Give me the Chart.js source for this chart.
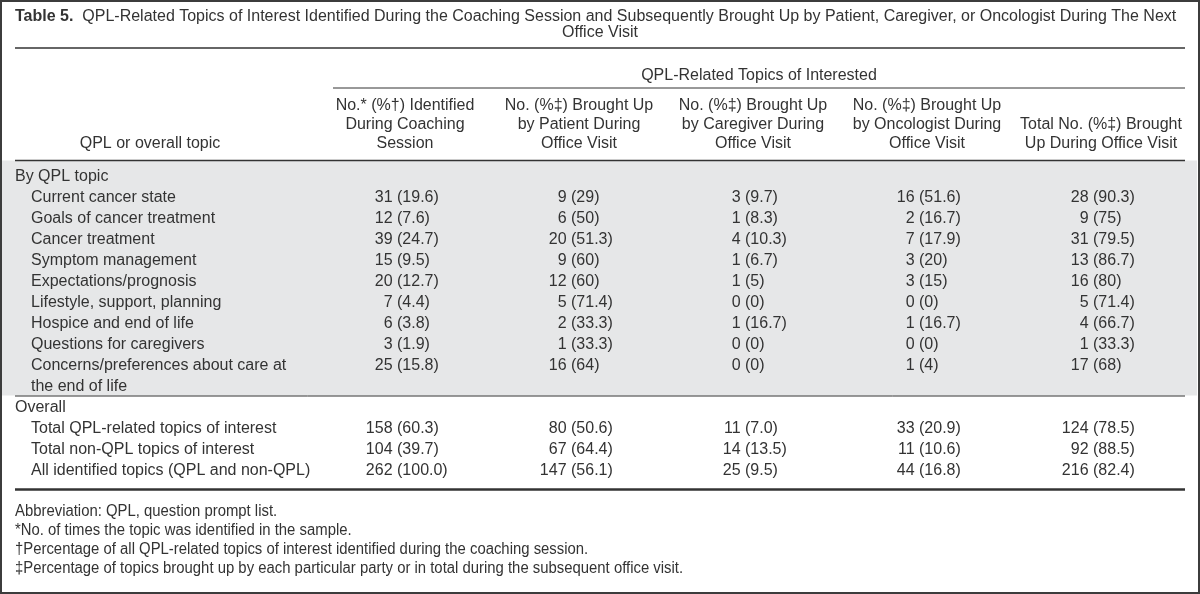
<!DOCTYPE html>
<html>
<head>
<meta charset="utf-8">
<script src="https://cdn.jsdelivr.net/npm/chart.js@4.4.1/dist/chart.umd.min.js"></script>
<style>
  html, body { margin: 0; padding: 0; background: #fff; }
  #wrap { width: 1200px; height: 594px; }
</style>
</head>
<body>
<div id="wrap"><canvas id="tbl" width="1200" height="594"></canvas></div>
<script>
// Table 5 - QPL-related topics, drawn as a category x category "chart"
const titleBold = 'Table 5.'
const titleRest = 'QPL-Related Topics of Interest Identified During the Coaching Session and Subsequently Brought Up by Patient, Caregiver, or Oncologist During The Next'
const titleLine2 = 'Office Visit'
const groupHeader = 'QPL-Related Topics of Interested'
const stubHeader = 'QPL or overall topic'

const columnKeys = ['Identified', 'Patient', 'Caregiver', 'Oncologist', 'Total']
const columnHeaders = [
  ['No.* (%†) Identified', 'During Coaching', 'Session'],
  ['No. (%‡) Brought Up', 'by Patient During', 'Office Visit'],
  ['No. (%‡) Brought Up', 'by Caregiver During', 'Office Visit'],
  ['No. (%‡) Brought Up', 'by Oncologist During', 'Office Visit'],
  ['Total No. (%‡) Brought', 'Up During Office Visit'],
]

const sectionQpl = 'By QPL topic'
const qplTopics = [
  'Current cancer state',
  'Goals of cancer treatment',
  'Cancer treatment',
  'Symptom management',
  'Expectations/prognosis',
  'Lifestyle, support, planning',
  'Hospice and end of life',
  'Questions for caregivers',
  'Concerns/preferences about care at\nthe end of life',
]
const identifiedN   = [31, 12, 39, 15, 20, 7, 6, 3, 25]
const identifiedPct = [19.6, 7.6, 24.7, 9.5, 12.7, 4.4, 3.8, 1.9, 15.8]
const patientN      = [9, 6, 20, 9, 12, 5, 2, 1, 16]
const patientPct    = [29, 50, 51.3, 60, 60, 71.4, 33.3, 33.3, 64]
const caregiverN    = [3, 1, 4, 1, 1, 0, 1, 0, 0]
const caregiverPct  = [9.7, 8.3, 10.3, 6.7, 5, 0, 16.7, 0, 0]
const oncologistN   = [16, 2, 7, 3, 3, 0, 1, 0, 1]
const oncologistPct = [51.6, 16.7, 17.9, 20, 15, 0, 16.7, 0, 4]
const totalN        = [28, 9, 31, 13, 16, 5, 4, 1, 17]
const totalPct      = [90.3, 75, 79.5, 86.7, 80, 71.4, 66.7, 33.3, 68]

const sectionOverall = 'Overall'
const overallTopics = [
  'Total QPL-related topics of interest',
  'Total non-QPL topics of interest',
  'All identified topics (QPL and non-QPL)',
]
const overallIdentifiedN   = [158, 104, 262]
const overallIdentifiedPct = [60.3, 39.7, 100.0]
const overallPatientN      = [80, 67, 147]
const overallPatientPct    = [50.6, 64.4, 56.1]
const overallCaregiverN    = [11, 14, 25]
const overallCaregiverPct  = [7.0, 13.5, 9.5]
const overallOncologistN   = [33, 11, 44]
const overallOncologistPct = [20.9, 10.6, 16.8]
const overallTotalN        = [124, 92, 216]
const overallTotalPct      = [78.5, 88.5, 82.4]

const footnotes = [
  'Abbreviation: QPL, question prompt list.',
  '*No. of times the topic was identified in the sample.',
  '†Percentage of all QPL-related topics of interest identified during the coaching session.',
  '‡Percentage of topics brought up by each particular party or in total during the subsequent office visit.',
]

const INK = '#333'
const BAND = '#e6e7e8'
const FONT = '"Liberation Sans", Arial, Helvetica, sans-serif'

// one y category per printed text line
const yLines = []
const lineKind = []
function addSection(head, topics) {
  yLines.push(head); lineKind.push('head')
  topics.forEach(t => t.split('\n').forEach((l, i) => { yLines.push(l); lineKind.push(i ? 'cont' : 'row') }))
}
addSection(sectionQpl, qplTopics)
const qplBandEnd = yLines.length - 1
addSection(sectionOverall, overallTopics)

const firstLine = t => t.split('\n')[0]
const qplCols = [[identifiedN, identifiedPct], [patientN, patientPct], [caregiverN, caregiverPct], [oncologistN, oncologistPct], [totalN, totalPct]]
const allCols = [[overallIdentifiedN, overallIdentifiedPct], [overallPatientN, overallPatientPct], [overallCaregiverN, overallCaregiverPct], [overallOncologistN, overallOncologistPct], [overallTotalN, overallTotalPct]]

const datasets = columnKeys.map((key, c) => ({
  label: key,
  pointRadius: 0,
  data: [
    ...qplTopics.map((t, i) => ({ x: key, y: firstLine(t), n: qplCols[c][0][i], pct: String(qplCols[c][1][i]) })),
    ...overallTopics.map((t, i) => ({ x: key, y: t, n: allCols[c][0][i], pct: allCols[c][1][i].toFixed(1) })),
  ],
}))

const tablePlugin = {
  id: 'tableText',
  beforeDraw(chart) {
    const { ctx, chartArea: a, scales: { x, y } } = chart
    const headRule = a.top - 6
    const bandBottom = (y.getPixelForValue(qplBandEnd) + y.getPixelForValue(qplBandEnd + 1)) / 2 - 2
    const bottomRule = a.bottom + 8
    ctx.save()
    ctx.fillStyle = '#fff'
    ctx.fillRect(0, 0, chart.width, chart.height)
    ctx.fillStyle = BAND
    ctx.fillRect(2, headRule, chart.width - 5, bandBottom - headRule)

    ctx.strokeStyle = INK
    const rule = (x0, x1, yy, w) => { ctx.lineWidth = w; ctx.beginPath(); ctx.moveTo(x0, yy); ctx.lineTo(x1, yy); ctx.stroke() }
    rule(15, 1185, headRule - 112.5, 1.5)                      // under title
    rule(x.getPixelForValue(0) - 64, 1185, headRule - 72.5, 1) // under group header
    rule(15, 1185, headRule, 1.5)                              // under column heads
    rule(15, 1185, bandBottom + 0.5, 1)                        // between sections
    rule(15, 1185, bottomRule, 2.5)                            // table bottom

    // frame
    ctx.strokeStyle = '#3c3c3c'
    ctx.lineWidth = 2
    ctx.strokeRect(1, 1, chart.width - 2, chart.height - 2)
    ctx.restore()
  },
  afterDatasetsDraw(chart) {
    const { ctx, chartArea: a, scales: { x, y } } = chart
    const headRule = a.top - 6
    ctx.save()
    ctx.fillStyle = INK
    ctx.textBaseline = 'middle'

    // title
    const tY = headRule - 144
    ctx.font = 'bold 16px ' + FONT
    ctx.textAlign = 'left'
    ctx.fillText(titleBold, 15, tY)
    const bw = ctx.measureText(titleBold + '  ').width
    ctx.font = '16px ' + FONT
    ctx.fillText(titleRest, 15 + bw, tY)
    ctx.textAlign = 'center'
    ctx.fillText(titleLine2, chart.width / 2, tY + 16)

    // group header
    ctx.fillText(groupHeader, (x.getPixelForValue(0) - 64 + 1185) / 2, headRule - 85)

    // column heads, bottom aligned
    const lh = 19
    const lastHead = headRule - 17
    ctx.fillText(stubHeader, 150, lastHead)
    columnHeaders.forEach((lines, c) => {
      const cx = x.getPixelForValue(c) + 8
      lines.forEach((l, i) => ctx.fillText(l, cx, lastHead - (lines.length - 1 - i) * lh))
    })

    // stub lines
    ctx.textAlign = 'left'
    yLines.forEach((l, i) => {
      ctx.fillText(l, lineKind[i] === 'head' ? 15 : 31, y.getPixelForValue(i))
    })

    // cells: count right of the gap, percentage from the anchor
    const sp = ctx.measureText(' ').width
    chart.data.datasets.forEach((ds, di) => {
      chart.getDatasetMeta(di).data.forEach((el, i) => {
        const d = ds.data[i]
        ctx.textAlign = 'right'
        ctx.fillText(String(d.n), el.x - sp, el.y)
        ctx.textAlign = 'left'
        ctx.fillText('(' + d.pct + ')', el.x, el.y)
      })
    })

    // footnotes
    ctx.font = '16px ' + FONT
    const fy = a.bottom + 30.5
    footnotes.forEach((f, i) => {
      ctx.save()
      ctx.translate(15, fy + i * 19)
      ctx.scale(0.93, 1)
      ctx.fillText(f, 0, 0)
      ctx.restore()
    })
    ctx.restore()
  },
}

new Chart(document.getElementById('tbl'), {
  type: 'scatter',
  data: { datasets },
  options: {
    responsive: false,
    animation: false,
    events: [],
    layout: { padding: { left: 310, right: 20, top: 166.5, bottom: 112.5 } },
    scales: {
      x: { type: 'category', labels: columnKeys, offset: true, display: false },
      y: { type: 'category', labels: yLines, offset: true, display: false },
    },
    plugins: { legend: { display: false }, tooltip: { enabled: false } },
  },
  plugins: [tablePlugin],
})
</script>
</body>
</html>
